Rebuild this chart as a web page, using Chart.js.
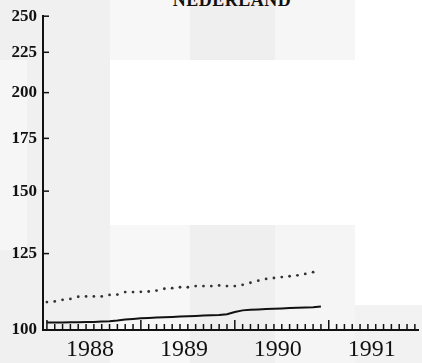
<!DOCTYPE html>
<html>
<head>
<meta charset="utf-8">
<script src="https://cdn.jsdelivr.net/npm/chart.js@4"></script>
<style>
  body { margin: 0; background: #fff; }
  #wrap { position: relative; width: 422px; height: 363px; overflow: hidden; }
  .patch { position: absolute; }
  #title {
    position: absolute; left: 132px; width: 200px; top: -9px;
    text-align: center; font: bold 18px "Liberation Serif", serif;
    line-height: 18px; color: #111; letter-spacing: 0.5px;
  }
  canvas { position: absolute; left: 0; top: 0; }
</style>
</head>
<body>
<div id="wrap">
  <div class="patch" style="left:0;top:0;width:110px;height:363px;background:#f0f0f0"></div>
  <div class="patch" style="left:0;top:60px;width:27px;height:190px;background:#f6f6f6"></div>
  <div class="patch" style="left:110px;top:0;width:80px;height:60px;background:#f7f7f7"></div>
  <div class="patch" style="left:190px;top:0;width:85px;height:60px;background:#efefef"></div>
  <div class="patch" style="left:275px;top:0;width:80px;height:60px;background:#f6f6f6"></div>
  <div class="patch" style="left:110px;top:225px;width:80px;height:138px;background:#f7f7f7"></div>
  <div class="patch" style="left:190px;top:225px;width:85px;height:138px;background:#efefef"></div>
  <div class="patch" style="left:275px;top:225px;width:80px;height:138px;background:#f5f5f5"></div>
  <div class="patch" style="left:355px;top:305px;width:67px;height:58px;background:#f2f2f2"></div>
  <div id="title">NEDERLAND</div>
  <canvas id="chart" width="422" height="363"></canvas>
</div>
<script>
// months counted from Jan 1988
var years = ["1988", "1989", "1990", "1991"];
var yTicks = [100, 125, 150, 175, 200, 225, 250];

// dotted series, Jan 1988 - Nov 1990
var dottedValues = [
  108.5, 108.7, 109.2, 109.5, 110.2, 110.3, 110.3, 110.3, 110.8, 110.9, 111.7, 111.7,
  111.8, 111.9, 112.2, 112.8, 113.0, 113.3, 113.3, 113.7, 113.7, 113.7, 113.9, 113.7,
  113.7, 114.1, 114.8, 115.5, 116.1, 116.4, 116.7, 117.0, 117.3, 117.8, 118.4
];

// solid series, Jan 1988 - Dec 1990
var solidValues = [
  102.2, 102.2, 102.2, 102.3, 102.3, 102.4, 102.4, 102.5, 102.6, 102.8, 103.1, 103.3,
  103.5, 103.6, 103.7, 103.8, 103.9, 104.0, 104.1, 104.2, 104.3, 104.4, 104.5, 104.7,
  105.4, 105.9, 106.1, 106.2, 106.3, 106.4, 106.5, 106.6, 106.7, 106.8, 106.9, 107.1
];

function toPoints(arr) {
  return arr.map(function (v, i) { return { x: i, y: v }; });
}

var innerTicks = {
  id: "innerTicks",
  afterDatasetsDraw: function (chart) {
    var ctx = chart.ctx;
    var x = chart.scales.x, y = chart.scales.y;
    ctx.save();
    ctx.strokeStyle = "#111";
    ctx.lineWidth = 1.5;
    yTicks.forEach(function (v) {
      var py = y.getPixelForValue(v);
      ctx.beginPath();
      ctx.moveTo(x.left, py);
      ctx.lineTo(x.left + 6, py);
      ctx.stroke();
    });
    for (var m = 0; m <= Math.floor(x.max); m++) {
      var px = x.getPixelForValue(m);
      var len = m % 12 === 0 ? 10 : 6;
      ctx.beginPath();
      ctx.moveTo(px, y.bottom);
      ctx.lineTo(px, y.bottom - len);
      ctx.stroke();
    }
    ctx.restore();
  }
};

var ctx = document.getElementById("chart").getContext("2d");
var chart = new Chart(ctx, {
  type: "line",
  data: {
    datasets: [
      {
        label: "dotted",
        data: toPoints(dottedValues),
        showLine: false,
        pointRadius: 1.4,
        pointBackgroundColor: "#333",
        pointBorderWidth: 0
      },
      {
        label: "solid",
        data: toPoints(solidValues),
        borderColor: "#111",
        borderWidth: 2,
        pointRadius: 0,
        tension: 0
      }
    ]
  },
  options: {
    responsive: false,
    animation: false,
    layout: { padding: { top: 15, right: 3, left: 0, bottom: 0 } },
    plugins: { legend: { display: false }, tooltip: { enabled: false } },
    scales: {
      x: {
        type: "linear",
        min: -0.5,
        max: 47.4,
        grid: { display: false, drawTicks: false },
        border: { display: true, color: "#111", width: 2 },
        afterBuildTicks: function (scale) {
          scale.ticks = years.map(function (yr, i) { return { value: 5.5 + 12 * i }; });
        },
        afterFit: function (scale) { scale.height = 33; },
        ticks: {
          autoSkip: false,
          maxRotation: 0,
          padding: 5,
          color: "#111",
          font: { family: "Liberation Serif", size: 24 },
          callback: function (v, i) { return years[i]; }
        }
      },
      y: {
        type: "logarithmic",
        min: 100,
        max: 250,
        grid: { display: false, drawTicks: false },
        border: { display: true, color: "#111", width: 2 },
        afterBuildTicks: function (scale) {
          scale.ticks = yTicks.map(function (v) { return { value: v }; });
        },
        afterFit: function (scale) { scale.width = 43; },
        ticks: {
          padding: 6,
          color: "#111",
          font: { family: "Liberation Serif", size: 17, weight: "bold" },
          callback: function (v) { return String(v); }
        }
      }
    }
  },
  plugins: [innerTicks]
});
</script>
</body>
</html>
